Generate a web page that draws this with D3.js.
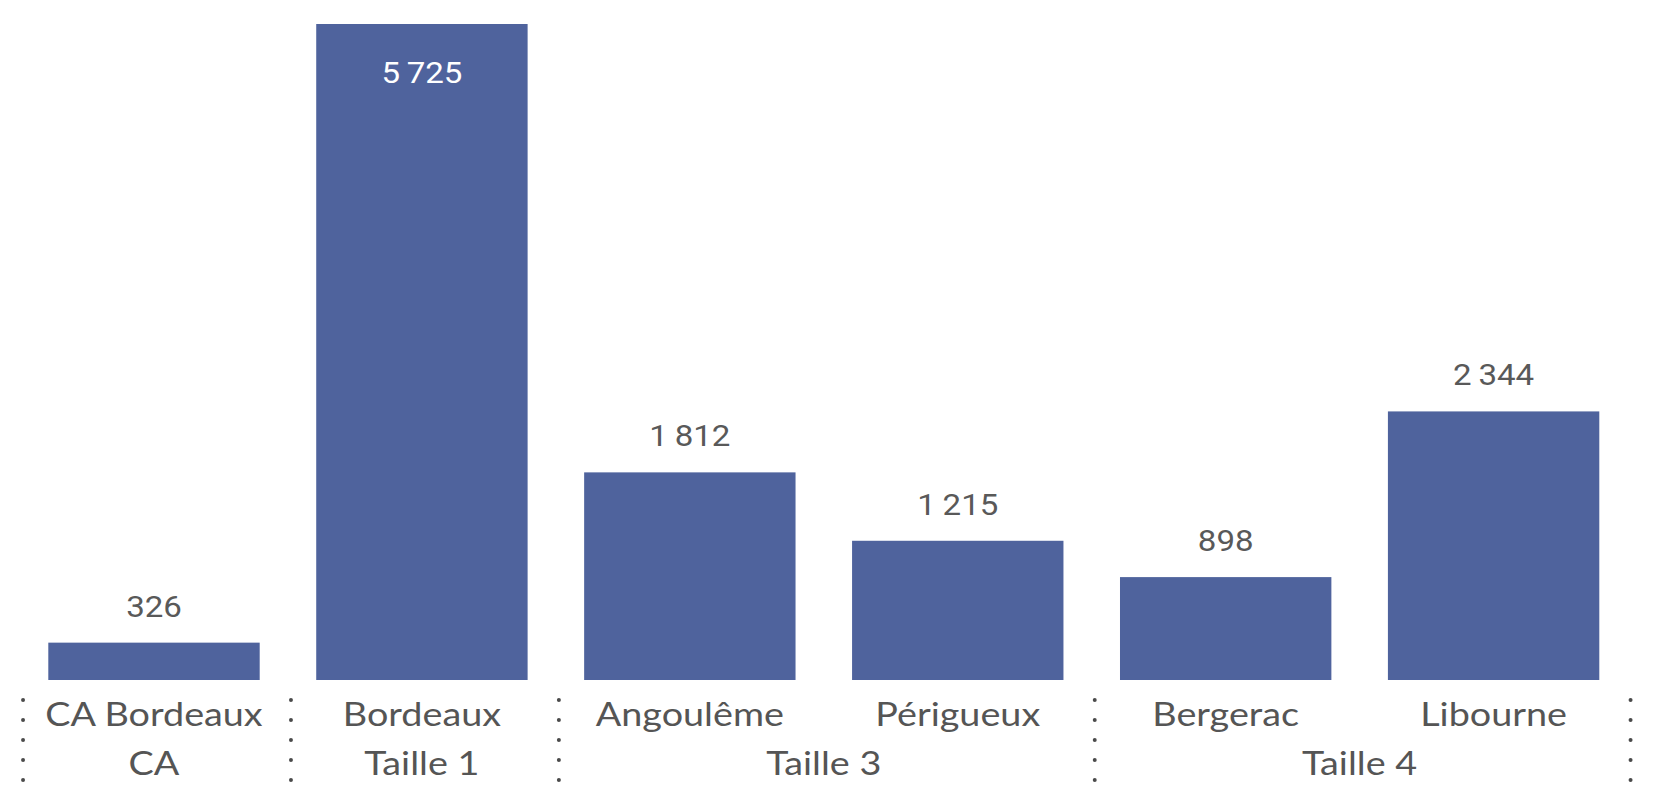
<!DOCTYPE html>
<html>
<head>
<meta charset="utf-8">
<script src="https://cdn.jsdelivr.net/npm/d3@7"></script>
<style>
  body { margin: 0; background: #fff; }
  .value { font-family: Roboto, "Liberation Sans", sans-serif; font-size: 29px; fill: #595959; }
  .value.inside { fill: #fff; }
  .cat { font-family: Lato, "Open Sans", sans-serif; font-size: 32px; fill: #555; }
</style>
</head>
<body>
<svg id="chart" width="1654" height="792"></svg>
<script>
// --- Data -----------------------------------------
const categories = ["CA Bordeaux", "Bordeaux", "Angoulême", "Périgueux", "Bergerac", "Libourne"];
const groups = ["CA", "Taille 1", "Taille 3", "Taille 3", "Taille 4", "Taille 4"];
const values = [326, 5725, 1812, 1215, 898, 2344];

const barColor = "#4f639d";
const stretch = 1.14;    // the reference text is a bit wider than our fonts
const catStretch = 1.18;

const fr = d3.formatLocale({decimal: ",", thousands: "\u2009", grouping: [3], currency: ["", " €"]});
const fmt = fr.format(",d");

const svg = d3.select("#chart");

const x = d3.scaleBand()
  .domain(categories)
  .range([48.3, 1599.3])
  .paddingInner(0.211)
  .paddingOuter(0);

const y = d3.scaleLinear()
  .domain([0, d3.max(values)])
  .range([680, 24]);

const gap = x.step() - x.bandwidth();
const data = categories.map((c, i) => ({cat: c, group: groups[i], value: values[i]}));

// --- Bars -----------------------------------------
svg.append("g").selectAll("rect")
  .data(data)
  .join("rect")
  .attr("x", d => x(d.cat))
  .attr("y", d => y(d.value))
  .attr("width", x.bandwidth())
  .attr("height", d => y(0) - y(d.value))
  .attr("fill", barColor);

// value labels: above the bar, or inside when there is no room
svg.append("g").selectAll("text")
  .data(data)
  .join("text")
  .attr("class", d => y(d.value) < 60 ? "value inside" : "value")
  .attr("text-anchor", "middle")
  .attr("transform", d => {
    const cy = y(d.value) < 60 ? y(d.value) + 59 : y(d.value) - 26;
    return `translate(${x(d.cat) + x.bandwidth() / 2},${cy}) scale(${stretch},1)`;
  })
  .text(d => fmt(d.value));

// --- Category axis --------------------------------
svg.append("g").selectAll("text")
  .data(data)
  .join("text")
  .attr("class", "cat")
  .attr("text-anchor", "middle")
  .attr("transform", d => `translate(${x(d.cat) + x.bandwidth() / 2},726) scale(${catStretch},1)`)
  .text(d => d.cat);

// group labels, centered under their members
const groupSpans = d3.groups(data, d => d.group).map(([g, rows]) => {
  const x0 = x(rows[0].cat);
  const x1 = x(rows[rows.length - 1].cat) + x.bandwidth();
  return {group: g, x0, x1};
});

svg.append("g").selectAll("text")
  .data(groupSpans)
  .join("text")
  .attr("class", "cat")
  .attr("text-anchor", "middle")
  .attr("transform", d => `translate(${(d.x0 + d.x1) / 2},775) scale(${catStretch},1)`)
  .text(d => d.group);

// dotted separators between groups
const sepX = groupSpans.map(d => d.x0 - gap / 2 + 3)
  .concat([groupSpans[groupSpans.length - 1].x1 + gap / 2 + 3]);
const dotY = d3.range(700, 781, 20);

svg.append("g").selectAll("g")
  .data(sepX)
  .join("g")
  .selectAll("circle")
  .data(sx => dotY.map(dy => [sx, dy]))
  .join("circle")
  .attr("cx", d => d[0])
  .attr("cy", d => d[1])
  .attr("r", 2)
  .attr("fill", "#4a4a4a");
</script>
</body>
</html>
